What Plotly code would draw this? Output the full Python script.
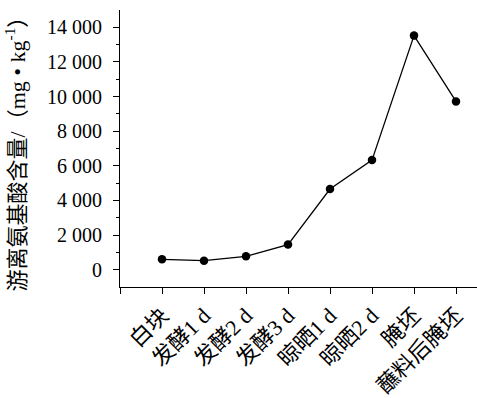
import plotly.graph_objects as go

categories = ["白块", "发酵1 d", "发酵2 d", "发酵3 d", "晾晒1 d", "晾晒2 d", "腌坯", "蘸料后腌坯"]
values = [600, 520, 770, 1450, 4660, 6330, 13520, 9720]
y_tickvals = [0, 2000, 4000, 6000, 8000, 10000, 12000, 14000]
y_ticktext = ["0", "2 000", "4 000", "6 000", "8 000", "10 000", "12 000", "14 000"]
y_title = "游离氨基酸含量/（mg • kg<sup>-1</sup>）"

FONT = "Liberation Serif, Times New Roman, Noto Sans CJK SC, serif"
x_idx = list(range(len(categories)))

fig = go.Figure()
fig.add_trace(go.Scatter(
    x=x_idx, y=values, mode="lines+markers",
    line=dict(color="black", width=1.3),
    marker=dict(color="black", size=8.5, symbol="circle"),
    showlegend=False,
))

fig.update_layout(
    width=477, height=398,
    margin=dict(l=120, r=0, t=10, b=111),
    plot_bgcolor="white", paper_bgcolor="white",
    font=dict(family=FONT, size=20, color="black"),
    xaxis=dict(
        range=[-1, 7.5], tickmode="array",
        tickvals=[-1] + x_idx, ticktext=[""] + categories,
        tickangle=-45, ticks="outside", ticklen=6, tickwidth=1.2, tickcolor="black",
        showline=True, linecolor="black", linewidth=1.2,
        showgrid=False, zeroline=False, automargin=False,
        tickfont=dict(family=FONT, size=22, color="black"),
    ),
    yaxis=dict(
        range=[-1000, 15000], tickmode="array",
        tickvals=y_tickvals, ticktext=y_ticktext,
        ticks="outside", ticklen=6, tickwidth=1.2, tickcolor="black",
        ticklabelstandoff=7,
        minor=dict(tickvals=[1000, 3000, 5000, 7000, 9000, 11000, 13000], ticks="outside", ticklen=3, tickcolor="black"),
        showline=True, linecolor="black", linewidth=1.2,
        showgrid=False, zeroline=False, automargin=False,
        tickfont=dict(family=FONT, size=20, color="black"),
        title=dict(text=y_title, font=dict(family=FONT, size=22, color="black")),
    ),
)

fig.write_html("out.html", post_script="document.body.style.margin='0';",
               config={"displayModeBar": False})
